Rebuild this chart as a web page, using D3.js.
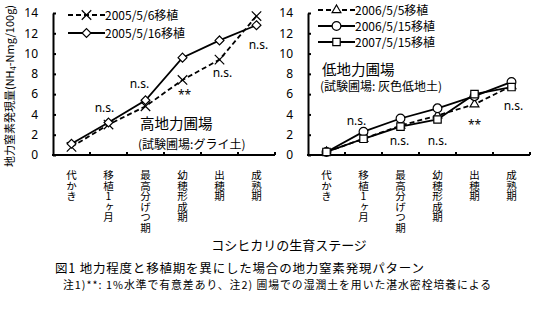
<!DOCTYPE html>
<html><head><meta charset="utf-8">
<script src="https://cdn.jsdelivr.net/npm/d3@7"></script>
<style>body{margin:0;background:#fff} text{font-family:"Noto Sans CJK JP","Noto Sans",sans-serif;fill:#000}</style>
</head><body><svg id="c" width="535" height="325"></svg>
<script>
const stages = ["代かき","移植1ヶ月","最高分げつ期","幼穂形成期","出穂期","成熟期"];
const yTicks = [0,2,4,6,8,10,12,14];
// 高地力圃場
const high0506 = [0.8,3.0,4.8,7.4,9.4,13.7];
const high0516 = [1.1,3.2,5.4,9.6,11.3,12.8];
// 低地力圃場
const low060505 = [0.3,1.6,2.9,3.9,5.0,6.8];
const low060515 = [0.3,2.3,3.6,4.6,5.8,7.2];
const low070515 = [0.3,1.6,2.8,3.5,6.0,6.7];
// significance labels: [stage index, value, label, x offset]
const highSig = [[1,4.25,"n.s.",-4],[2,6.6,"n.s.",-6],[3,5.5,"**",2],[4,7.7,"n.s.",3],[5,10.45,"n.s.",2]];
const lowSig = [[1,2.95,"n.s.",-7],[2,1.0,"n.s.",-1],[3,1.0,"n.s.",0],[4,2.6,"**",0],[5,4.4,"n.s.",2]];

const svg = d3.select("#c");
const y = d3.scaleLinear().domain([0,14]).range([155,13]);

function panel(x0, series, sig, legendX, legendY0, labelPos, labels) {
  const x = d3.scaleBand().domain(stages).range([x0, x0+222]).padding(0);
  const g = svg.append("g");
  const ya = d3.axisLeft(y).tickValues(yTicks).tickSizeInner(-3).tickSizeOuter(0).tickPadding(15);
  const yg = g.append("g").attr("transform",`translate(${x0},0)`).call(ya);
  yg.select(".domain").attr("stroke","#000").attr("stroke-width",2);
  yg.selectAll(".tick line").attr("stroke","#000").attr("stroke-width",2);
  yg.selectAll("text").style("font-size","12px").style("font-family","'Noto Sans','DejaVu Sans',sans-serif");
  g.append("line").attr("x1",x0-1).attr("x2",x0+222).attr("y1",y(0)).attr("y2",y(0)).attr("stroke","#000").attr("stroke-width",2);
  stages.forEach((s,i)=>{
    const tx = x(s)+x.bandwidth();
    g.append("line").attr("x1",tx).attr("x2",tx).attr("y1",y(0)).attr("y2",y(0)-3).attr("stroke","#000").attr("stroke-width",2);
    g.append("text").attr("x",x(s)+x.bandwidth()/2).attr("y",170)
      .style("writing-mode","vertical-rl").style("text-orientation","upright")
      .style("font-size","10.5px").text(s);
  });
  const line = d3.line().x((d,i)=>x(stages[i])+x.bandwidth()/2).y(d=>y(d));
  series.forEach(s=>{
    g.append("path").datum(s.values).attr("d",line).attr("fill","none").attr("stroke","#000")
      .attr("stroke-width",1.8).attr("stroke-dasharray",s.dash?"5,3":null);
  });
  series.forEach(s=>{
    g.selectAll(null).data(s.values).join("path")
      .attr("transform",(d,i)=>`translate(${x(stages[i])+x.bandwidth()/2},${y(d)})`)
      .attr("d",d3.symbol().type(s.sym).size(s.size)).attr("fill","#fff").attr("stroke","#000").attr("stroke-width",1.2);
  });
  series.forEach((s,i)=>{
    const ly = legendY0 + i*s.lstep;
    g.append("line").attr("x1",legendX).attr("x2",legendX+37).attr("y1",ly).attr("y2",ly)
      .attr("stroke","#000").attr("stroke-width",1.8).attr("stroke-dasharray",s.dash?"5,3":null);
    g.append("path").attr("transform",`translate(${legendX+18.5},${ly})`)
      .attr("d",d3.symbol().type(s.sym).size(s.size)).attr("fill","#fff").attr("stroke","#000").attr("stroke-width",1.2);
    g.append("text").attr("x",legendX+37).attr("y",ly+4.5).style("font-size","12px").text(s.name);
  });
  sig.forEach(([i,v,t,off])=>{
    g.append("text").attr("x",x(stages[i])+x.bandwidth()/2+off).attr("y",y(v)).attr("text-anchor","middle")
      .style("font-size","12px").style("font-family","'Noto Sans',sans-serif").text(t);
  });
  g.append("text").attr("x",labelPos[0]).attr("y",labelPos[1]).style("font-size","14.5px").text(labels[0]);
  g.append("text").attr("x",labelPos[0]-2).attr("y",labelPos[2]).style("font-size","12px").text(labels[1]);
}

panel(53, [
  {name:"2005/5/6移植", values:high0506, dash:true, sym:d3.symbolX, size:60, lstep:18},
  {name:"2005/5/16移植", values:high0516, dash:false, sym:d3.symbolDiamond2, size:50, lstep:18}
], highSig, 68, 15, [140,129,149], ["高地力圃場","(試験圃場:グライ土)"]);

panel(308, [
  {name:"2006/5/5移植", values:low060505, dash:true, sym:d3.symbolTriangle2, size:55, lstep:16},
  {name:"2006/5/15移植", values:low060515, dash:false, sym:d3.symbolCircle, size:60, lstep:16},
  {name:"2007/5/15移植", values:low070515, dash:false, sym:d3.symbolSquare2, size:70, lstep:16}
], lowSig, 318, 10, [322,75,91], ["低地力圃場","(試験圃場: 灰色低地土)"]);

const yt = svg.append("text").attr("transform","translate(14,86) rotate(-90)").attr("text-anchor","middle").style("font-size","11px");
yt.append("tspan").text("地力窒素発現量(NH");
yt.append("tspan").attr("baseline-shift","-25%").style("font-size","7.5px").text("4");
yt.append("tspan").text("-Nmg/100g)");

svg.append("text").attr("x",289).attr("y",250).attr("text-anchor","middle").style("font-size","13px").text("コシヒカリの生育ステージ");
svg.append("text").attr("x",55).attr("y",273).style("font-size","12.5px").style("letter-spacing","0.8px").text("図1  地力程度と移植期を異にした場合の地力窒素発現パターン");
svg.append("text").attr("x",63).attr("y",289).style("font-size","10.8px").style("letter-spacing","1px").text("注1)**: 1%水準で有意差あり、注2) 圃場での湿潤土を用いた湛水密栓培養による");
</script></body></html>
